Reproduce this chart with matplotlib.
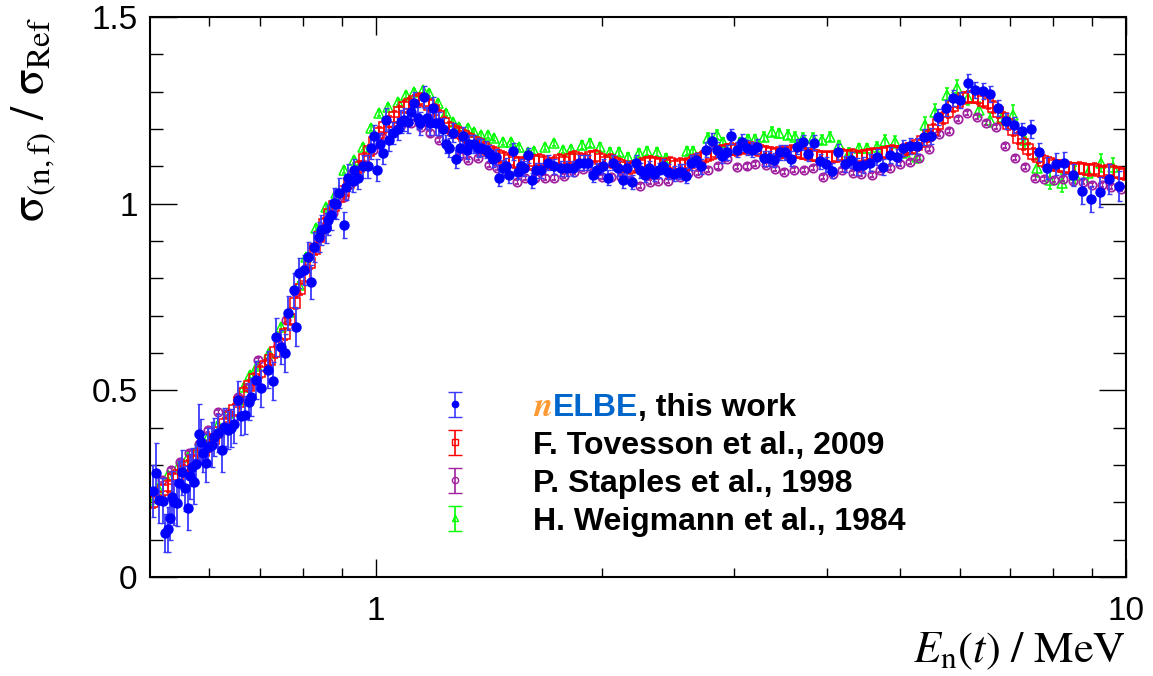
import numpy as np
import matplotlib
matplotlib.use("Agg")
import matplotlib.pyplot as plt
from matplotlib.ticker import FixedLocator, FixedFormatter, MultipleLocator, NullFormatter
from matplotlib.legend_handler import HandlerErrorbar
from matplotlib.container import ErrorbarContainer

plt.rcParams["font.family"] = ["Liberation Sans", "DejaVu Sans"]
plt.rcParams["mathtext.fontset"] = "stix"

# nELBE, this work
nelbe_e = [0.505, 0.509, 0.514, 0.520, 0.524, 0.528, 0.532, 0.535, 0.538, 0.543,
           0.547, 0.552, 0.557, 0.562, 0.565, 0.569, 0.573, 0.576, 0.581, 0.585,
           0.588, 0.594, 0.597, 0.605, 0.608, 0.616, 0.624, 0.628, 0.635, 0.641,
           0.647, 0.655, 0.661, 0.669, 0.678, 0.682, 0.692, 0.703, 0.718, 0.729,
           0.736, 0.747, 0.756, 0.764, 0.778, 0.783, 0.790, 0.802, 0.812, 0.819,
           0.827, 0.840, 0.845, 0.858, 0.863, 0.871, 0.879, 0.885, 0.893, 0.907,
           0.912, 0.918, 0.932, 0.935, 0.946, 0.961, 0.976, 0.985, 0.994, 1.003,
           1.012, 1.022, 1.031, 1.041, 1.053, 1.070, 1.080, 1.090, 1.103, 1.113,
           1.124, 1.137, 1.144, 1.159, 1.169, 1.180, 1.191, 1.202, 1.213, 1.228,
           1.239, 1.251, 1.266, 1.278, 1.294, 1.306, 1.322, 1.330, 1.350, 1.367,
           1.380, 1.401, 1.414, 1.432, 1.445, 1.458, 1.476, 1.490, 1.504, 1.522,
           1.546, 1.560, 1.575, 1.594, 1.614, 1.633, 1.659, 1.694, 1.726, 1.763,
           1.796, 1.829, 1.863, 1.892, 1.915, 1.945, 1.969, 2.006, 2.037, 2.068,
           2.101, 2.133, 2.159, 2.193, 2.220, 2.247, 2.282, 2.310, 2.346, 2.382,
           2.418, 2.455, 2.494, 2.532, 2.563, 2.594, 2.627, 2.675, 2.717, 2.759,
           2.803, 2.846, 2.890, 2.935, 2.979, 3.034, 3.081, 3.128, 3.177, 3.226,
           3.287, 3.347, 3.399, 3.462, 3.516, 3.580, 3.647, 3.714, 3.772, 3.842,
           3.913, 3.985, 4.059, 4.135, 4.225, 4.303, 4.383, 4.465, 4.561, 4.660,
           4.747, 4.850, 4.955, 5.047, 5.157, 5.268, 5.383, 5.499, 5.620, 5.759,
           5.884, 6.011, 6.160, 6.294, 6.450, 6.590, 6.754, 6.922, 7.095, 7.270,
           7.474, 7.659, 7.852, 8.066, 8.267, 8.500, 8.738, 8.982, 9.235, 9.493,
           9.788]
nelbe_y = [0.231, 0.279, 0.206, 0.204, 0.118, 0.128, 0.158, 0.214, 0.200, 0.198,
           0.252, 0.281, 0.238, 0.185, 0.270, 0.295, 0.255, 0.303, 0.383, 0.362,
           0.332, 0.305, 0.348, 0.354, 0.375, 0.386, 0.340, 0.402, 0.394, 0.399,
           0.410, 0.474, 0.430, 0.434, 0.470, 0.482, 0.528, 0.505, 0.555, 0.525,
           0.643, 0.616, 0.600, 0.707, 0.769, 0.670, 0.814, 0.822, 0.857, 0.790,
           0.884, 0.910, 0.930, 0.935, 0.956, 0.970, 1.002, 1.000, 1.029, 0.943,
           1.045, 1.070, 1.060, 1.090, 1.070, 1.100, 1.100, 1.150, 1.180, 1.090,
           1.160, 1.135, 1.225, 1.170, 1.190, 1.200, 1.220, 1.225, 1.220, 1.245,
           1.270, 1.230, 1.215, 1.285, 1.230, 1.215, 1.255, 1.215, 1.215, 1.200,
           1.160, 1.150, 1.190, 1.120, 1.150, 1.180, 1.145, 1.160, 1.160, 1.150,
           1.150, 1.145, 1.135, 1.120, 1.125, 1.070, 1.095, 1.100, 1.077, 1.140,
           1.085, 1.100, 1.095, 1.130, 1.063, 1.090, 1.090, 1.110, 1.100, 1.095,
           1.095, 1.095, 1.110, 1.110, 1.110, 1.077, 1.090, 1.100, 1.070, 1.110,
           1.095, 1.063, 1.095, 1.058, 1.110, 1.090, 1.077, 1.095, 1.080, 1.090,
           1.100, 1.085, 1.080, 1.085, 1.085, 1.075, 1.110, 1.117, 1.100, 1.144,
           1.168, 1.144, 1.128, 1.138, 1.180, 1.144, 1.166, 1.150, 1.144, 1.152,
           1.122, 1.122, 1.117, 1.138, 1.138, 1.120, 1.152, 1.165, 1.133, 1.163,
           1.114, 1.106, 1.088, 1.138, 1.106, 1.117, 1.100, 1.104, 1.110, 1.125,
           1.098, 1.130, 1.125, 1.149, 1.155, 1.155, 1.178, 1.181, 1.232, 1.256,
           1.283, 1.278, 1.323, 1.304, 1.302, 1.294, 1.256, 1.221, 1.210, 1.195,
           1.200, 1.138, 1.096, 1.106, 1.109, 1.077, 1.034, 1.013, 1.031, 1.066,
           1.047]
nelbe_err = [0.07, 0.08, 0.06, 0.06, 0.05, 0.06, 0.06, 0.07, 0.06, 0.06,
             0.06, 0.06, 0.06, 0.06, 0.06, 0.05, 0.06, 0.05, 0.08, 0.06,
             0.05, 0.05, 0.05, 0.06, 0.05, 0.05, 0.06, 0.05, 0.05, 0.05,
             0.05, 0.05, 0.05, 0.05, 0.05, 0.05, 0.05, 0.05, 0.05, 0.05,
             0.05, 0.045, 0.05, 0.045, 0.045, 0.05, 0.04, 0.04, 0.04, 0.045,
             0.04, 0.04, 0.04, 0.04, 0.04, 0.04, 0.04, 0.04, 0.04, 0.035,
             0.035, 0.035, 0.03, 0.03, 0.03, 0.03, 0.03, 0.03, 0.03, 0.03,
             0.03, 0.03, 0.03, 0.03, 0.03, 0.03, 0.03, 0.03, 0.03, 0.03,
             0.03, 0.03, 0.03, 0.03, 0.03, 0.03, 0.03, 0.03, 0.03, 0.03,
             0.025, 0.025, 0.025, 0.025, 0.025, 0.025, 0.025, 0.025, 0.025, 0.025,
             0.022, 0.022, 0.022, 0.022, 0.022, 0.022, 0.022, 0.022, 0.022, 0.022,
             0.02, 0.02, 0.02, 0.02, 0.02, 0.02, 0.02, 0.02, 0.02, 0.02,
             0.02, 0.02, 0.02, 0.02, 0.02, 0.02, 0.02, 0.02, 0.02, 0.02,
             0.02, 0.02, 0.02, 0.02, 0.02, 0.02, 0.02, 0.02, 0.02, 0.02,
             0.02, 0.02, 0.02, 0.02, 0.02, 0.02, 0.02, 0.02, 0.02, 0.02,
             0.02, 0.02, 0.02, 0.02, 0.02, 0.02, 0.02, 0.02, 0.02, 0.02,
             0.02, 0.02, 0.02, 0.02, 0.02, 0.02, 0.02, 0.02, 0.02, 0.02,
             0.02, 0.02, 0.02, 0.022, 0.022, 0.022, 0.022, 0.022, 0.022, 0.022,
             0.022, 0.022, 0.022, 0.022, 0.022, 0.022, 0.022, 0.022, 0.022, 0.022,
             0.022, 0.022, 0.025, 0.022, 0.022, 0.022, 0.022, 0.022, 0.022, 0.022,
             0.025, 0.025, 0.03, 0.03, 0.03, 0.03, 0.035, 0.035, 0.04, 0.04,
             0.04]

# F. Tovesson et al., 2009
tov_e = [0.505, 0.512, 0.520, 0.528, 0.536, 0.545, 0.553, 0.562, 0.571, 0.580,
         0.590, 0.599, 0.609, 0.618, 0.628, 0.638, 0.648, 0.658, 0.668, 0.678,
         0.689, 0.700, 0.711, 0.722, 0.733, 0.745, 0.756, 0.768, 0.780, 0.792,
         0.804, 0.816, 0.829, 0.841, 0.854, 0.867, 0.880, 0.894, 0.907, 0.921,
         0.935, 0.950, 0.964, 0.979, 0.994, 1.010, 1.025, 1.041, 1.057, 1.073,
         1.090, 1.107, 1.124, 1.141, 1.159, 1.177, 1.195, 1.214, 1.233, 1.252,
         1.271, 1.291, 1.311, 1.331, 1.352, 1.373, 1.394, 1.416, 1.438, 1.460,
         1.483, 1.506, 1.529, 1.553, 1.577, 1.602, 1.627, 1.652, 1.678, 1.704,
         1.730, 1.757, 1.784, 1.812, 1.840, 1.869, 1.898, 1.928, 1.958, 1.988,
         2.019, 2.051, 2.082, 2.115, 2.148, 2.181, 2.215, 2.250, 2.285, 2.320,
         2.357, 2.393, 2.431, 2.469, 2.507, 2.546, 2.586, 2.626, 2.667, 2.709,
         2.751, 2.794, 2.838, 2.882, 2.927, 2.973, 3.019, 3.066, 3.114, 3.163,
         3.212, 3.262, 3.313, 3.365, 3.417, 3.471, 3.525, 3.580, 3.636, 3.693,
         3.750, 3.809, 3.868, 3.928, 3.990, 4.052, 4.115, 4.180, 4.245, 4.311,
         4.378, 4.447, 4.516, 4.586, 4.658, 4.731, 4.804, 4.879, 4.955, 5.033,
         5.111, 5.191, 5.272, 5.354, 5.438, 5.522, 5.608, 5.696, 5.785, 5.875,
         5.967, 6.060, 6.154, 6.250, 6.348, 6.447, 6.547, 6.649, 6.753, 6.858,
         6.965, 7.074, 7.184, 7.296, 7.410, 7.525, 7.643, 7.762, 7.883, 8.006,
         8.131, 8.257, 8.386, 8.517, 8.650, 8.784, 8.921, 9.060, 9.201, 9.345,
         9.490, 9.638, 9.788, 9.941]
tov_y = [0.200, 0.215, 0.232, 0.245, 0.262, 0.272, 0.285, 0.298, 0.312, 0.326,
         0.338, 0.352, 0.370, 0.388, 0.410, 0.428, 0.448, 0.470, 0.492, 0.512,
         0.530, 0.548, 0.566, 0.582, 0.602, 0.624, 0.652, 0.690, 0.735, 0.772,
         0.805, 0.842, 0.878, 0.910, 0.945, 0.972, 0.995, 1.018, 1.035, 1.055,
         1.075, 1.098, 1.120, 1.140, 1.165, 1.188, 1.205, 1.220, 1.232, 1.245,
         1.258, 1.268, 1.275, 1.280, 1.276, 1.265, 1.252, 1.235, 1.215, 1.202,
         1.195, 1.188, 1.180, 1.172, 1.166, 1.160, 1.150, 1.142, 1.135, 1.128,
         1.122, 1.118, 1.112, 1.108, 1.110, 1.106, 1.114, 1.118, 1.112, 1.106,
         1.110, 1.116, 1.112, 1.120, 1.125, 1.120, 1.118, 1.124, 1.128, 1.120,
         1.112, 1.118, 1.110, 1.104, 1.098, 1.095, 1.100, 1.104, 1.110, 1.112,
         1.108, 1.106, 1.104, 1.108, 1.102, 1.106, 1.104, 1.110, 1.116, 1.122,
         1.128, 1.134, 1.138, 1.140, 1.144, 1.146, 1.144, 1.148, 1.150, 1.148,
         1.146, 1.142, 1.138, 1.136, 1.134, 1.138, 1.136, 1.140, 1.138, 1.136,
         1.132, 1.130, 1.128, 1.126, 1.124, 1.126, 1.128, 1.130, 1.128, 1.130,
         1.126, 1.128, 1.130, 1.132, 1.134, 1.136, 1.138, 1.140, 1.138, 1.142,
         1.146, 1.150, 1.156, 1.168, 1.182, 1.198, 1.214, 1.230, 1.246, 1.262,
         1.272, 1.282, 1.286, 1.285, 1.282, 1.276, 1.270, 1.258, 1.246, 1.230,
         1.214, 1.196, 1.176, 1.160, 1.146, 1.134, 1.124, 1.114, 1.108, 1.104,
         1.100, 1.098, 1.096, 1.094, 1.096, 1.092, 1.090, 1.092, 1.088, 1.086,
         1.090, 1.084, 1.082, 1.080]
tov_err = 0.016

# P. Staples et al., 1998
stap_e = [0.518, 0.534, 0.549, 0.563, 0.581, 0.597, 0.616, 0.635, 0.655, 0.675,
          0.696, 0.718, 0.741, 0.759, 0.782, 0.807, 0.827, 0.853, 0.876, 0.907,
          0.935, 0.962, 0.990, 1.020, 1.050, 1.080, 1.113, 1.150, 1.180, 1.213,
          1.251, 1.290, 1.326, 1.367, 1.414, 1.450, 1.490, 1.540, 1.580, 1.630,
          1.680, 1.730, 1.780, 1.835, 1.890, 1.950, 2.000, 2.060, 2.120, 2.180,
          2.250, 2.320, 2.380, 2.450, 2.540, 2.610, 2.690, 2.770, 2.860, 2.940,
          3.030, 3.120, 3.200, 3.310, 3.410, 3.500, 3.610, 3.720, 3.830, 3.950,
          4.070, 4.180, 4.320, 4.440, 4.580, 4.700, 4.850, 5.000, 5.160, 5.300,
          5.470, 5.630, 5.800, 5.970, 6.140, 6.330, 6.510, 6.710, 6.900, 7.120,
          7.330, 7.570, 7.780, 8.010, 8.240, 8.500, 8.760, 9.010, 9.290, 9.550,
          9.860]
stap_y = [0.260, 0.287, 0.308, 0.332, 0.355, 0.394, 0.442, 0.440, 0.482, 0.509,
          0.581, 0.575, 0.627, 0.688, 0.760, 0.828, 0.881, 0.938, 0.975, 1.018,
          1.060, 1.105, 1.145, 1.178, 1.198, 1.210, 1.216, 1.205, 1.188, 1.170,
          1.149, 1.128, 1.117, 1.122, 1.104, 1.096, 1.082, 1.058, 1.069, 1.069,
          1.070, 1.070, 1.074, 1.085, 1.093, 1.085, 1.072, 1.072, 1.072, 1.064,
          1.047, 1.058, 1.061, 1.061, 1.072, 1.082, 1.082, 1.090, 1.100, 1.120,
          1.098, 1.100, 1.106, 1.104, 1.093, 1.085, 1.090, 1.090, 1.096, 1.072,
          1.080, 1.090, 1.082, 1.080, 1.077, 1.090, 1.096, 1.106, 1.112, 1.122,
          1.146, 1.187, 1.195, 1.227, 1.243, 1.232, 1.216, 1.205, 1.155, 1.122,
          1.098, 1.069, 1.066, 1.063, 1.066, 1.061, 1.058, 1.050, 1.050, 1.045,
          1.039]
stap_err = 0.006

# H. Weigmann et al., 1984
weig_e = [0.499, 0.513, 0.528, 0.545, 0.562, 0.579, 0.597, 0.616, 0.635, 0.655,
          0.667, 0.680, 0.695, 0.720, 0.747, 0.766, 0.790, 0.807, 0.832, 0.858,
          0.885, 0.907, 0.935, 0.961, 0.985, 1.009, 1.037, 1.070, 1.096, 1.124,
          1.155, 1.176, 1.209, 1.239, 1.266, 1.290, 1.326, 1.350, 1.380, 1.410,
          1.436, 1.476, 1.513, 1.550, 1.594, 1.624, 1.680, 1.726, 1.775, 1.820,
          1.880, 1.930, 1.990, 2.050, 2.110, 2.170, 2.240, 2.300, 2.370, 2.440,
          2.600, 2.650, 2.770, 2.850, 2.900, 3.060, 3.130, 3.200, 3.290, 3.370,
          3.450, 3.540, 3.620, 3.710, 3.830, 3.930, 4.030, 4.140, 4.270, 4.400,
          4.520, 4.650, 4.770, 4.920, 5.080, 5.270, 5.400, 5.560, 5.770, 5.950,
          6.160, 6.370, 6.590, 6.840, 7.070, 7.330, 7.610, 7.920, 8.220, 8.550,
          8.900, 9.260, 9.600]
weig_y = [0.206, 0.238, 0.273, 0.295, 0.321, 0.348, 0.375, 0.407, 0.440, 0.475,
          0.510, 0.540, 0.565, 0.600, 0.670, 0.710, 0.782, 0.857, 0.935, 0.990,
          1.029, 1.090, 1.117, 1.152, 1.203, 1.243, 1.259, 1.272, 1.291, 1.299,
          1.305, 1.297, 1.270, 1.243, 1.219, 1.205, 1.203, 1.192, 1.184, 1.184,
          1.176, 1.165, 1.165, 1.152, 1.138, 1.140, 1.152, 1.163, 1.144, 1.146,
          1.157, 1.163, 1.152, 1.138, 1.138, 1.125, 1.136, 1.141, 1.138, 1.122,
          1.141, 1.141, 1.176, 1.184, 1.165, 1.165, 1.173, 1.173, 1.179, 1.192,
          1.189, 1.184, 1.179, 1.176, 1.176, 1.171, 1.179, 1.157, 1.136, 1.149,
          1.149, 1.152, 1.168, 1.165, 1.138, 1.125, 1.211, 1.246, 1.291, 1.310,
          1.283, 1.251, 1.224, 1.232, 1.238, 1.171, 1.096, 1.063, 1.055, 1.077,
          1.082, 1.109, 1.098]
weig_err = [0.008, 0.008, 0.008, 0.008, 0.008, 0.008, 0.008, 0.008, 0.008, 0.008,
            0.008, 0.008, 0.008, 0.008, 0.008, 0.008, 0.008, 0.008, 0.008, 0.008,
            0.008, 0.008, 0.008, 0.008, 0.008, 0.008, 0.008, 0.008, 0.008, 0.008,
            0.008, 0.008, 0.008, 0.008, 0.008, 0.008, 0.008, 0.008, 0.008, 0.008,
            0.008, 0.008, 0.008, 0.008, 0.008, 0.008, 0.008, 0.008, 0.008, 0.008,
            0.01, 0.01, 0.01, 0.01, 0.01, 0.01, 0.01, 0.01, 0.01, 0.01,
            0.012, 0.012, 0.012, 0.012, 0.012, 0.012, 0.012, 0.012, 0.012, 0.012,
            0.012, 0.012, 0.012, 0.012, 0.012, 0.012, 0.012, 0.012, 0.012, 0.012,
            0.012, 0.012, 0.015, 0.015, 0.015, 0.015, 0.02, 0.02, 0.02, 0.02,
            0.02, 0.02, 0.02, 0.02, 0.025, 0.025, 0.025, 0.025, 0.025, 0.025,
            0.025, 0.025, 0.025]

labels = ["nELBE, this work", "F. Tovesson et al., 2009",
          "P. Staples et al., 1998", "H. Weigmann et al., 1984"]

blue = "#0000ff"
red = "#ff0000"
purple = "#a020a0"
green = "#00ff00"

fig = plt.figure(figsize=(11.53, 6.76), dpi=100)
ax = fig.add_axes([0.1301, 0.1464, 0.8465, 0.8285])

ax.errorbar(weig_e, weig_y, yerr=weig_err, fmt="^", ms=6.5, mfc="none", mec=green,
            mew=1.1, ecolor=green, elinewidth=1.1, capsize=1.5, zorder=2)
ax.errorbar(stap_e, stap_y, yerr=stap_err, fmt="o", ms=6, mfc="none", mec=purple,
            mew=1.3, ecolor=purple, elinewidth=1.0, capsize=1.5, zorder=2.2)
ax.errorbar(tov_e, tov_y, yerr=tov_err, fmt="s", ms=6.5, mfc="none", mec=red,
            mew=1.1, ecolor=red, elinewidth=1.1, capsize=1.8, zorder=2.4)
ax.errorbar(nelbe_e, nelbe_y, yerr=nelbe_err, fmt="o", ms=6.5, color=blue,
            ecolor="#3a3aff", elinewidth=1.3, capsize=1.8, zorder=2.6)

ax.set_xscale("log")
ax.set_xlim(0.5, 10)
ax.set_ylim(0, 1.5)
ax.xaxis.set_major_locator(FixedLocator([1, 10]))
ax.xaxis.set_major_formatter(FixedFormatter(["1", "10"]))
ax.xaxis.set_minor_locator(FixedLocator([0.6, 0.7, 0.8, 0.9, 2, 3, 4, 5, 6, 7, 8, 9]))
ax.xaxis.set_minor_formatter(NullFormatter())
ax.yaxis.set_major_locator(FixedLocator([0, 0.5, 1, 1.5]))
ax.yaxis.set_major_formatter(FixedFormatter(["0", "0.5", "1", "1.5"]))
ax.yaxis.set_minor_locator(MultipleLocator(0.1))

ax.tick_params(which="both", direction="in", top=True, right=True, width=1.0,
               labelsize=24)
ax.tick_params(axis="x", which="major", length=13, pad=14)
ax.tick_params(axis="x", which="minor", length=6.5)
ax.tick_params(axis="y", which="major", length=19.5, pad=9)
ax.tick_params(axis="y", which="minor", length=9.5)
for sp in ax.spines.values():
    sp.set_linewidth(1.5)

ax.set_ylabel(r"$\mathrm{\sigma}_{\mathrm{(n,f)}}\ /\ \mathrm{\sigma}_{\mathrm{Ref}}$",
              fontsize=34, loc="top")
ax.yaxis.set_label_coords(-0.094, 1.0)
ax.set_xlabel(r"$E_{\mathrm{n}}(t)\ /\ \mathrm{MeV}$", fontsize=32, loc="right")
ax.xaxis.set_label_coords(1.0, -0.095)

# legend proxies with wide caps
proxies = []
for fmt, col, ec, fc in [("o", blue, "#3a3aff", blue), ("s", red, red, "none"),
                         ("o", purple, purple, "none"), ("^", green, green, "none")]:
    h = ax.errorbar([np.nan], [np.nan], yerr=[0.1], fmt=fmt, ms=4.5, mfc=fc, mec=col,
                    mew=1.0, ecolor=ec, elinewidth=1.2, capsize=5)
    proxies.append(h)

leg = ax.legend(proxies, labels, loc="upper left", bbox_to_anchor=(0.283, 0.352),
                frameon=False, prop={"family": "Liberation Sans", "weight": "bold", "size": 23},
                handlelength=1.0, handletextpad=1.95, labelspacing=0.25, borderpad=0.4,
                borderaxespad=0.0,
                handler_map={ErrorbarContainer: HandlerErrorbar(yerr_size=0.4)})
t0 = leg.get_texts()[0]
t0.set_color("none")
a1 = ax.annotate("n", xy=(0, 0), xycoords=t0, ha="left", va="bottom", fontsize=25,
                 family="STIXGeneral", style="italic", weight="bold",
                 color="#ff9933", zorder=6)
a2 = ax.annotate("ELBE", xy=(1, 0), xycoords=a1, ha="left", va="bottom", fontsize=23,
                 weight="bold", color="#0066cc", zorder=6)
ax.annotate(", this work", xy=(1, 0), xycoords=a2, ha="left", va="bottom", fontsize=23,
            weight="bold", color="black", zorder=6)

fig.savefig("out.png", dpi=100)
